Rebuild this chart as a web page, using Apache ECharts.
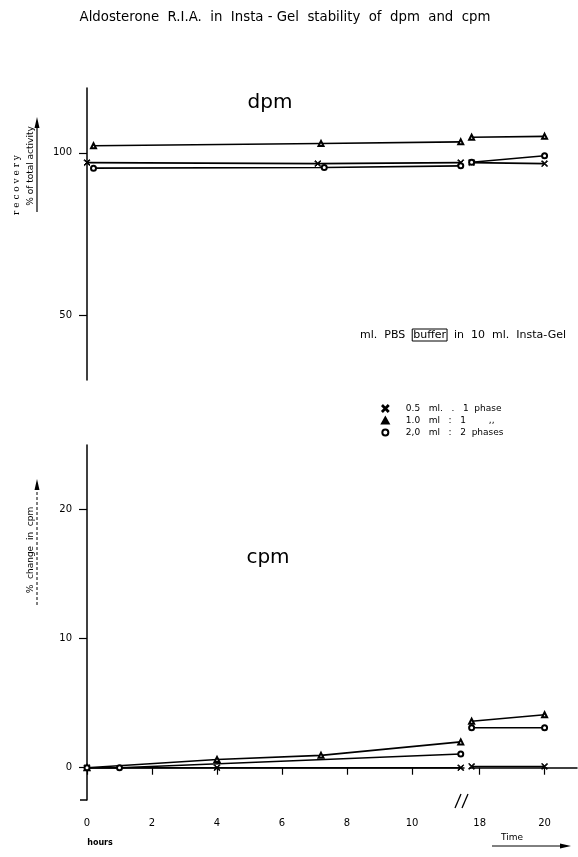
<!DOCTYPE html>
<html>
<head>
<meta charset="utf-8">
<title>Aldosterone R.I.A. in Insta-Gel</title>
<script src="https://cdn.jsdelivr.net/npm/echarts@6.0.0/dist/echarts.min.js"></script>
<style>
  html, body { margin: 0; padding: 0; background: #fff; }
  #chart { width: 578px; height: 857px; }
</style>
</head>
<body>
<div id="chart"></div>
<script>
// legend names (ml PBS buffer in 10 ml Insta-Gel)
const name05 = '0.5   ml.   .   1  phase'
const name10 = '1.0   ml   :   1        ,,'
const name20 = '2,0   ml   :   2  phases'

// dpm: recovery, % of total activity
const dpm05Hours = [0, 7.1, 11.5, 17.75, 20]
const dpm05Values = [97.0, 96.7, 97.0, 97.0, 96.7]
const dpm10Hours = [0.2, 7.2, 11.5, 17.75, 20]
const dpm10Values = [102.2, 102.9, 103.4, 104.8, 105.1]
const dpm20Hours = [0.2, 7.3, 11.5, 17.75, 20]
const dpm20Values = [95.3, 95.5, 96.0, 97.1, 99.1]

// cpm: % change in cpm
const cpm05Hours = [0, 4, 11.5, 17.75, 20]
const cpm05Values = [0, 0, 0, 0.1, 0.1]
const cpm10Hours = [0, 4, 7.2, 11.5, 17.75, 20]
const cpm10Values = [0, 0.64, 0.96, 2.0, 3.6, 4.1]
const cpm20Hours = [0, 1, 11.5, 17.75, 20]
const cpm20Values = [0, 0, 1.06, 3.1, 3.1]

// axis ticks
const hourTicksLeft = [0, 2, 4, 6, 8, 10]
const hourTicksRight = [18, 20]
const dpmTicks = [50, 100]
const cpmTicks = [0, 10, 20]

const crossIcon = 'path://M0,1L1,0L5,4L9,0L10,1L6,5L10,9L9,10L5,6L1,10L0,9L4,5Z'
const triangleIcon = 'path://M5,0L10,9L0,9Z'
const black = '#000'
const font = 'DejaVu Sans, sans-serif'

const chart = echarts.init(document.getElementById('chart'))

// split a series in the part before and after the axis break
const splitAtBreak = (hours, values) => {
  const left = []
  const right = []
  hours.forEach((h, i) => (h < 15 ? left : right).push([h, values[i]]))
  return [left, right]
}

const makeSeries = (name, symbol, hours, values, firstAxis) => {
  const parts = splitAtBreak(hours, values)
  return parts.map((data, k) => ({
    name: name,
    type: 'line',
    xAxisIndex: firstAxis + k,
    yAxisIndex: firstAxis + k,
    data: data,
    symbol: symbol,
    symbolSize: symbol === crossIcon ? 6 : 5,
    clip: false,
    lineStyle: { color: black, width: 1.6 },
    itemStyle: { color: black, borderColor: black, borderWidth: 1 }
  }))
}

const series = [
  ...makeSeries(name05, crossIcon, dpm05Hours, dpm05Values, 0),
  ...makeSeries(name10, 'emptyTriangle', dpm10Hours, dpm10Values, 0),
  ...makeSeries(name20, 'emptyCircle', dpm20Hours, dpm20Values, 0),
  ...makeSeries(name05, crossIcon, cpm05Hours, cpm05Values, 2),
  ...makeSeries(name10, 'emptyTriangle', cpm10Hours, cpm10Values, 2),
  ...makeSeries(name20, 'emptyCircle', cpm20Hours, cpm20Values, 2)
]

const axisLine = { show: true, lineStyle: { color: black, width: 1.5 } }
const axisLabel = { color: black, fontSize: 10, fontFamily: font }

const xAxis = (gridIndex, min, max, ticks, visible) => ({
  type: 'value',
  gridIndex: gridIndex,
  min: min,
  max: max,
  show: visible,
  axisLine: axisLine,
  axisTick: { show: true, length: 7, lineStyle: { color: black, width: 1.2 }, customValues: ticks },
  axisLabel: Object.assign({ margin: 18, customValues: ticks }, axisLabel),
  splitLine: { show: false }
})

const yAxis = (gridIndex, min, max, ticks, visible) => ({
  type: 'value',
  gridIndex: gridIndex,
  min: min,
  max: max,
  show: visible,
  axisLine: axisLine,
  axisTick: { show: true, length: 8, lineStyle: { color: black, width: 1.2 }, customValues: ticks },
  axisLabel: Object.assign({ margin: 15, customValues: ticks }, axisLabel),
  splitLine: { show: false }
})

const option = {
  animation: false,
  backgroundColor: '#fff',
  grid: [
    { left: 87, top: 88, width: 377, height: 292 },
    { left: 470, top: 88, width: 107, height: 292 },
    { left: 87, top: 445, width: 377, height: 355 },
    { left: 470, top: 445, width: 107, height: 355 }
  ],
  xAxis: [
    xAxis(0, 0, 11.6, hourTicksLeft, false),
    xAxis(1, 17.7, 21.0, hourTicksRight, false),
    xAxis(2, 0, 11.6, hourTicksLeft, true),
    xAxis(3, 17.7, 21.0, hourTicksRight, true)
  ],
  yAxis: [
    yAxis(0, 30, 120, dpmTicks, true),
    yAxis(1, 30, 120, dpmTicks, false),
    yAxis(2, -2.5, 25, cpmTicks, true),
    yAxis(3, -2.5, 25, cpmTicks, false)
  ],
  legend: {
    left: 376,
    top: 399,
    orient: 'vertical',
    itemWidth: 31,
    itemHeight: 6,
    itemGap: 3,
    selectedMode: false,
    textStyle: { color: black, fontSize: 9, fontFamily: font },
    data: [
      { name: name05, icon: crossIcon },
      { name: name10, icon: triangleIcon },
      { name: name20, icon: 'emptyCircle' }
    ]
  },
  series: series,
  graphic: [
    {
      type: 'text', x: 285, y: 11,
      style: { text: 'Aldosterone  R.I.A.  in  Insta - Gel  stability  of  dpm  and  cpm', align: 'center', fill: black, font: '13.3px ' + font }
    },
    { type: 'text', x: 270, y: 103, style: { text: 'dpm', align: 'center', verticalAlign: 'middle', fill: black, font: '20px ' + font } },
    { type: 'text', x: 268, y: 558, style: { text: 'cpm', align: 'center', verticalAlign: 'middle', fill: black, font: '20px ' + font } },
    // y axis names
    { type: 'text', x: 17, y: 185, rotation: Math.PI / 2, style: { text: 'r e c o v e r y', align: 'center', verticalAlign: 'middle', fill: black, font: '9px DejaVu Serif, serif' } },
    { type: 'text', x: 31, y: 166, rotation: Math.PI / 2, style: { text: '% of total activity', align: 'center', verticalAlign: 'middle', fill: black, font: '9px ' + font } },
    { type: 'line', shape: { x1: 37, y1: 212, x2: 37, y2: 124 }, style: { stroke: black, lineWidth: 1.2 } },
    { type: 'polygon', shape: { points: [[34.5, 128], [39.5, 128], [37, 117]] }, style: { fill: black } },
    { type: 'text', x: 31, y: 550, rotation: Math.PI / 2, style: { text: '%  change  in  cpm', align: 'center', verticalAlign: 'middle', fill: black, font: '9px ' + font } },
    { type: 'line', shape: { x1: 37, y1: 605, x2: 37, y2: 486 }, style: { stroke: black, lineWidth: 1, lineDash: [3, 2] } },
    { type: 'polygon', shape: { points: [[34.5, 490], [39.5, 490], [37, 479]] }, style: { fill: black } },
    // buffer caption
    {
      type: 'text', x: 360, y: 329,
      style: {
        text: 'ml.  PBS  {b|buffer}  in  10  ml.  Insta-Gel',
        fill: black, font: '11px ' + font,
        rich: { b: { borderColor: black, borderWidth: 1, padding: [1, 1, 0, 1], fontSize: 11, fontFamily: font } }
      }
    },
    // axis break marks
    { type: 'line', shape: { x1: 455, y1: 808, x2: 461, y2: 794 }, style: { stroke: black, lineWidth: 1.3 } },
    { type: 'line', shape: { x1: 462, y1: 808, x2: 468, y2: 794 }, style: { stroke: black, lineWidth: 1.3 } },
    // short lead-in of the x axis left of the y axis
    { type: 'line', shape: { x1: 80, y1: 800, x2: 87, y2: 800 }, style: { stroke: black, lineWidth: 1.5 } },
    // x axis names
    { type: 'text', x: 100, y: 843, style: { text: 'hours', align: 'center', verticalAlign: 'middle', fill: black, font: 'bold 8px ' + font } },
    { type: 'text', x: 512, y: 838, style: { text: 'Time', align: 'center', verticalAlign: 'middle', fill: black, font: '9px ' + font } },
    { type: 'line', shape: { x1: 492, y1: 846, x2: 562, y2: 846 }, style: { stroke: black, lineWidth: 1 } },
    { type: 'polygon', shape: { points: [[560, 843.5], [560, 848.5], [571, 846]] }, style: { fill: black } }
  ]
}

chart.setOption(option)
</script>
</body>
</html>
